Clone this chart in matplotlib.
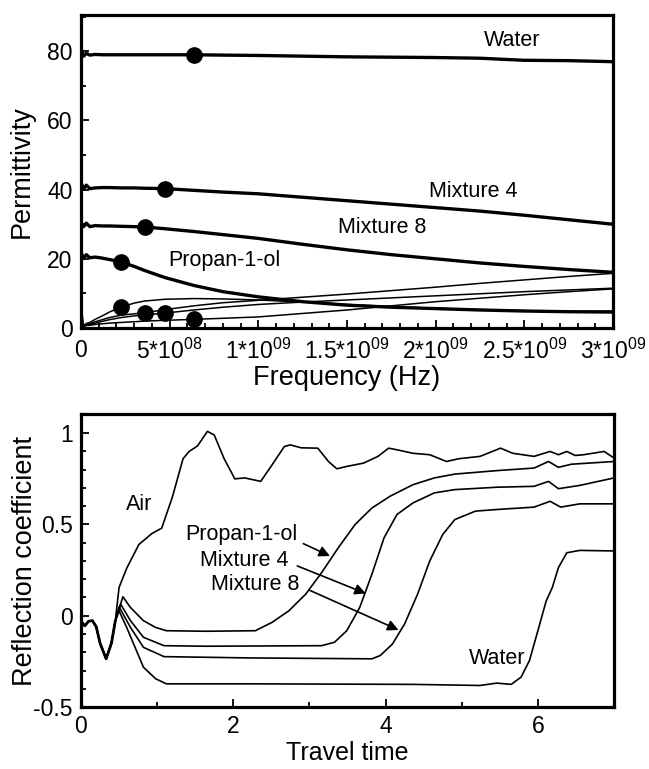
import numpy as np
import matplotlib
matplotlib.use('Agg')
import matplotlib.pyplot as plt
from matplotlib.ticker import MultipleLocator

plt.rcParams['font.family'] = ['Liberation Sans', 'DejaVu Sans']
plt.rcParams['mathtext.fontset'] = 'custom'
plt.rcParams['mathtext.rm'] = 'Liberation Sans'
plt.rcParams['mathtext.default'] = 'regular'

# ---- top panel: permittivity vs frequency ----
freq = np.array([0, 0.15, 0.3, 0.5, 0.8, 1.2, 1.6, 2.26, 3, 3.6, 4.72, 6.36,
                 8, 10, 12.5, 15, 17.5, 20, 22.5, 25, 27.5, 30]) * 1e8

# real part (thick lines)
water_re = [80.8, 78.6, 79.4, 78.9, 79.1, 79.0, 79.0, 79.0, 79.0, 79.0, 79.0, 79.0,
            78.9, 78.8, 78.6, 78.4, 78.3, 78.2, 78.0, 77.4, 77.3, 77.0]
mix4_re = [42.0, 40.2, 41.3, 40.3, 40.5, 40.6, 40.6, 40.5, 40.5, 40.4, 40.3, 39.8,
           39.3, 38.8, 37.8, 36.8, 35.8, 34.8, 33.8, 32.6, 31.3, 30.0]
mix8_re = [30.5, 29.3, 30.3, 29.3, 29.6, 29.5, 29.5, 29.4, 29.3, 29.2, 28.7, 27.9,
           27.0, 25.9, 24.2, 22.6, 21.2, 20.0, 18.8, 17.8, 16.9, 16.1]
prop_re = [21.8, 20.2, 21.2, 20.3, 20.5, 20.2, 19.8, 19.1, 17.8, 16.6, 14.6, 12.3,
           10.5, 9.0, 7.6, 6.6, 6.0, 5.6, 5.2, 4.9, 4.7, 4.6]

# imaginary part (thin lines)
prop_im = [7.0, 0.5, 1.3, 1.6, 2.5, 3.5, 4.6, 6.0, 7.2, 7.8, 8.3, 8.5,
           8.4, 8.1, 7.5, 6.8, 6.2, 5.7, 5.3, 5.0, 4.8, 4.9]
mix8_im = [0.0, 0.8, 1.0, 1.2, 1.8, 2.4, 3.0, 3.7, 4.1, 4.4, 5.3, 6.4,
           7.3, 8.0, 8.9, 9.8, 10.8, 11.8, 12.9, 13.9, 14.9, 15.8]
mix4_im = [0.0, 0.6, 0.9, 1.0, 1.4, 1.9, 2.4, 3.0, 3.5, 3.8, 4.3, 5.2,
           6.0, 6.8, 7.5, 8.1, 8.7, 9.3, 9.9, 10.5, 11.0, 11.5]
water_im = [0.0, 0.5, 0.7, 0.8, 1.0, 1.2, 1.4, 1.6, 1.8, 2.0, 2.2, 2.5,
            2.8, 3.2, 4.2, 5.2, 6.4, 7.6, 8.6, 9.6, 10.5, 11.3]

# frequency where each curve carries its dot
mark_re = {'water': 6.36e8, 'mix4': 4.72e8, 'mix8': 3.6e8, 'prop': 2.26e8}
mark_im = {'water': 6.36e8, 'mix4': 4.72e8, 'mix8': 3.6e8, 'prop': 2.26e8}

xtick_vals = [0, 5e8, 1e9, 1.5e9, 2e9, 2.5e9, 3e9]
xtick_labels = ['0', '5*10$^{08}$', '1*10$^{09}$', '1.5*10$^{09}$', '2*10$^{09}$',
                '2.5*10$^{09}$', '3*10$^{09}$']

# ---- bottom panel: reflection coefficient vs travel time ----
t_start = [0, 0.05, 0.1, 0.15, 0.2, 0.25, 0.33, 0.4, 0.45]
r_start = [-0.03, -0.055, -0.03, -0.027, -0.06, -0.15, -0.236, -0.15, -0.03]

air_t = [0.5, 0.6, 0.76, 0.93, 1.06, 1.2, 1.34, 1.42, 1.53, 1.66, 1.75, 1.88, 2.02,
         2.15, 2.36, 2.51, 2.67, 2.75, 2.89, 3.11, 3.25, 3.36, 3.49, 3.71, 3.9, 4.04,
         4.15, 4.36, 4.58, 4.8, 4.96, 5.24, 5.51, 5.67, 5.95, 6.16, 6.27, 6.38, 6.49,
         6.6, 6.87, 7.0]
air_r = [0.155, 0.26, 0.39, 0.45, 0.48, 0.65, 0.86, 0.9, 0.93, 1.01, 0.99, 0.86, 0.75,
         0.755, 0.736, 0.827, 0.927, 0.936, 0.92, 0.918, 0.845, 0.805, 0.818, 0.836,
         0.873, 0.918, 0.909, 0.89, 0.882, 0.845, 0.86, 0.873, 0.918, 0.89, 0.873,
         0.9, 0.882, 0.9, 0.878, 0.882, 0.9, 0.864]

prop_t = [0.55, 0.65, 0.82, 0.98, 1.12, 1.64, 2.29, 2.51, 2.73, 2.95, 3.16, 3.38,
          3.6, 3.82, 4.06, 4.36, 4.64, 4.91, 5.46, 5.95, 6.14, 6.27, 6.44, 7.0]
prop_r = [0.104, 0.045, -0.027, -0.064, -0.082, -0.085, -0.082, -0.036, 0.027, 0.118,
          0.236, 0.373, 0.5, 0.59, 0.655, 0.718, 0.755, 0.776, 0.795, 0.809, 0.845,
          0.813, 0.83, 0.845]

mix4_t = [0.52, 0.65, 0.82, 1.09, 1.64, 3.16, 3.33, 3.49, 3.66, 3.82, 3.98, 4.15,
          4.36, 4.64, 4.91, 5.46, 5.95, 6.14, 6.27, 6.55, 7.0]
mix4_r = [0.064, -0.027, -0.118, -0.164, -0.167, -0.164, -0.145, -0.082, 0.045, 0.227,
          0.427, 0.555, 0.618, 0.673, 0.691, 0.704, 0.709, 0.736, 0.696, 0.714, 0.755]

mix8_t = [0.5, 0.65, 0.82, 1.09, 2.2, 3.82, 3.93, 4.09, 4.25, 4.42, 4.58, 4.75, 4.91,
          5.18, 5.46, 5.95, 6.16, 6.3, 6.55, 7.0]
mix8_r = [0.049, -0.064, -0.173, -0.224, -0.231, -0.236, -0.218, -0.155, -0.045, 0.118,
          0.3, 0.445, 0.527, 0.573, 0.582, 0.595, 0.627, 0.595, 0.613, 0.613]

water_t = [0.5, 0.6, 0.71, 0.82, 0.98, 1.12, 2.2, 4.36, 5.24, 5.46, 5.65, 5.78, 5.89,
           6.0, 6.11, 6.19, 6.27, 6.38, 6.55, 7.0]
water_r = [0.027, -0.064, -0.173, -0.282, -0.345, -0.373, -0.373, -0.376, -0.382,
           -0.369, -0.376, -0.336, -0.245, -0.082, 0.082, 0.155, 0.264, 0.345, 0.358,
           0.355]

fig = plt.figure(figsize=(6.49, 7.69), dpi=100)

# top
ax1 = fig.add_axes([0.1248, 0.5735, 0.8197, 0.407])
thick = [(water_re, 'water'), (mix4_re, 'mix4'), (mix8_re, 'mix8'), (prop_re, 'prop')]
thin = [(water_im, 'water'), (mix4_im, 'mix4'), (mix8_im, 'mix8'), (prop_im, 'prop')]
for vals, key in thin:
    ax1.plot(freq, vals, color='k', lw=1.1)
    fm = mark_im[key]
    ax1.plot([fm], [np.interp(fm, freq, vals)], 'o', color='k', ms=11)
for vals, key in thick:
    ax1.plot(freq, vals, color='k', lw=2.4)
    fm = mark_re[key]
    ax1.plot([fm], [np.interp(fm, freq, vals)], 'o', color='k', ms=11)

ax1.set_xlim(0, 3e9)
ax1.set_ylim(0, 90.5)
ax1.set_xticks(xtick_vals)
ax1.set_xticklabels(xtick_labels)
ax1.xaxis.set_minor_locator(MultipleLocator(1e8))
ax1.set_yticks([0, 20, 40, 60, 80])
ax1.yaxis.set_minor_locator(MultipleLocator(10))
ax1.set_xlabel('Frequency (Hz)', fontsize=19.5)
ax1.set_ylabel('Permittivity', fontsize=19.5)
ax1.xaxis.set_label_coords(0.5, -0.118)
ax1.yaxis.set_label_coords(-0.086, 0.5)
ax1.text(2.43e9, 83.2, 'Water', fontsize=15.5, ha='center', va='center')
ax1.text(2.21e9, 39.5, 'Mixture 4', fontsize=15.5, ha='center', va='center')
ax1.text(1.70e9, 29.0, 'Mixture 8', fontsize=15.5, ha='center', va='center')
ax1.text(8.07e8, 19.6, 'Propan-1-ol', fontsize=15.5, ha='center', va='center')

# bottom
ax2 = fig.add_axes([0.1248, 0.0806, 0.8213, 0.381])
lead_t = np.array(t_start)
lead_r = np.array(r_start)
curves = [(air_t, air_r), (prop_t, prop_r), (mix4_t, mix4_r), (mix8_t, mix8_r),
          (water_t, water_r)]
for tt, rr in curves:
    ax2.plot(np.concatenate([lead_t, tt]), np.concatenate([lead_r, rr]),
             color='k', lw=1.2)
ax2.plot(lead_t, lead_r, color='k', lw=2.0)

ax2.set_xlim(0, 7)
ax2.set_ylim(-0.5, 1.105)
ax2.set_xticks([0, 2, 4, 6])
ax2.xaxis.set_minor_locator(MultipleLocator(1))
ax2.set_yticks([-0.5, 0, 0.5, 1])
ax2.set_yticklabels(['-0.5', '0', '0.5', '1'])
ax2.yaxis.set_minor_locator(MultipleLocator(0.1))
ax2.set_xlabel('Travel time', fontsize=18)
ax2.set_ylabel('Reflection coefficient', fontsize=19.5)
ax2.xaxis.set_label_coords(0.5, -0.117)
ax2.yaxis.set_label_coords(-0.081, 0.5)

ax2.text(0.76, 0.609, 'Air', fontsize=15.5, ha='center', va='center')
ax2.text(2.1, 0.445, 'Propan-1-ol', fontsize=15.5, ha='center', va='center')
ax2.text(2.15, 0.30, 'Mixture 4', fontsize=15.5, ha='center', va='center')
ax2.text(2.29, 0.173, 'Mixture 8', fontsize=15.5, ha='center', va='center')
ax2.text(5.46, -0.236, 'Water', fontsize=15.5, ha='center', va='center')
arrows = [((2.92, 0.395), (3.27, 0.327)),
          ((2.84, 0.273), (3.74, 0.122)),
          ((3.0, 0.14), (4.17, -0.078))]
for tail, head in arrows:
    ax2.annotate('', xy=head, xytext=tail,
                 arrowprops=dict(arrowstyle='-|>', color='k', lw=1.2,
                                 mutation_scale=16, shrinkA=0, shrinkB=0))

for ax in (ax1, ax2):
    for s in ax.spines.values():
        s.set_linewidth(2.3)
    ax.tick_params(which='both', direction='in', top=False, right=False,
                   labelsize=16.5, width=1.3)
    ax.tick_params(which='major', length=6)
    ax.tick_params(which='minor', length=3.5)
    ax.tick_params(axis='y', which='major', pad=6)
ax1.tick_params(axis='x', which='major', pad=8)
ax2.tick_params(axis='x', which='major', pad=6)

fig.savefig('out.png', dpi=100)
